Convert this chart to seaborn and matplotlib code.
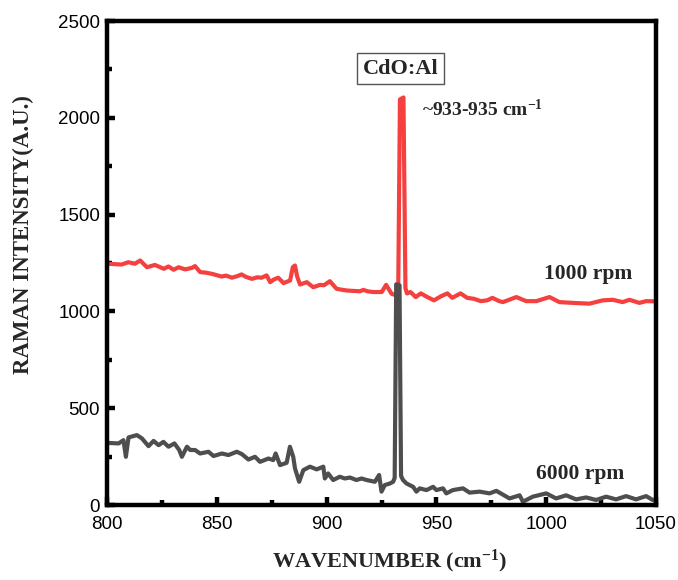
import matplotlib
matplotlib.use("Agg")
import matplotlib.pyplot as plt
from matplotlib.ticker import MultipleLocator
import pandas as pd
import seaborn as sns

# Raman spectrum, CdO:Al film spun at 1000 rpm
wavenumber_1000 = [
    800, 803.5, 806.6, 809.7, 812.7, 815.1, 818.2, 821.8, 825.9, 828, 830.3, 832.6,
    835.6, 838.7, 840.1, 842.4, 845.1, 847.8, 852.2, 854.2, 856.9, 859.3, 861.3, 863.3,
    866, 868.4, 870.4, 872.7, 874.3, 876, 878, 880.4, 883.4, 884.6, 885.6, 886.6,
    887.9, 891, 893.9, 897, 898.8, 901.5, 904.5, 906.9, 909.1, 911.9, 915.2, 916.7,
    919, 921.3, 925.1, 927.1, 929.6, 931.9, 932.6, 933.4, 935.0, 935.9, 936.6, 938.2,
    940.6, 942.9, 945.9, 948.9, 951.9, 955, 957.2, 961, 964, 967.1, 970.2, 973.1,
    975.5, 978.6, 980.3, 986.4, 990.9, 995.5, 1001.5, 1006, 1012.1, 1019.7, 1025.7,
    1030.3, 1034.8, 1037.9, 1042.4, 1045.5, 1049.2,
]
intensity_1000 = [
    1246, 1244, 1242, 1254, 1246, 1263, 1228, 1240, 1220, 1232, 1215, 1228,
    1217, 1225, 1234, 1203, 1200, 1194, 1180, 1185, 1174, 1182, 1191, 1178,
    1168, 1176, 1174, 1186, 1151, 1165, 1174, 1146, 1160, 1228, 1237, 1180,
    1139, 1151, 1125, 1137, 1135, 1156, 1117, 1112, 1108, 1106, 1104, 1111,
    1103, 1100, 1100, 1137, 1091, 1082, 1085, 2095, 2105, 1120, 1093, 1100,
    1074, 1093, 1074, 1057, 1077, 1093, 1070, 1093, 1070, 1065, 1053, 1057,
    1070, 1053, 1048, 1074, 1053, 1053, 1074, 1048, 1044, 1040, 1057,
    1060, 1048, 1060, 1044, 1053, 1052,
]

# Raman spectrum, CdO:Al film spun at 6000 rpm
wavenumber_6000 = [
    800, 805.3, 807.5, 808.6, 809.8, 813.6, 815.9, 818.9, 821.2, 823.5, 825.7, 828,
    830.7, 832.9, 834.1, 836.4, 837.9, 840.1, 842.4, 846.2, 848.5, 852.3, 855.3, 859.1,
    861.4, 864.4, 867.4, 869.7, 873.5, 875.7, 876.8, 878.8, 881.8, 883.3, 884.8, 885.6,
    887.5, 889.4, 892.4, 895.5, 898.5, 899.2, 900.7, 903, 906, 908.3, 910.6, 913.6,
    915.9, 918.2, 922, 923.9, 925, 926.5, 928.8, 930.3, 931.0, 931.7, 933.2, 933.9,
    934.8, 936.4, 939.4, 940.9, 942.4, 945.5, 948.5, 950, 953, 954.5, 957.5, 962.1,
    965.1, 969.7, 974.2, 977.3, 983.3, 987.9, 989.4, 993.9, 1000, 1004.5, 1009.1,
    1013.6, 1018.2, 1022.7, 1027.3, 1031.8, 1036.4, 1040.9, 1045.5, 1048.5,
]
intensity_6000 = [
    321, 318, 335, 249, 349, 361, 344, 304, 331, 309, 326, 301,
    318, 284, 249, 301, 284, 284, 266, 275, 253, 266, 258, 275,
    263, 235, 249, 223, 240, 232, 266, 206, 218, 301, 249, 189,
    120, 180, 198, 184, 198, 137, 163, 129, 146, 137, 142, 129,
    137, 129, 120, 155, 69, 103, 111, 120, 140, 1140, 1135, 150,
    129, 111, 94, 69, 86, 77, 94, 77, 86, 60, 77, 86,
    64, 69, 60, 73, 34, 50, 17, 43, 60, 34, 50,
    29, 39, 26, 43, 29, 46, 29, 46, 26,
]

x_ticks = [800, 850, 900, 950, 1000, 1050]
y_ticks = [0, 500, 1000, 1500, 2000, 2500]

RED = "#f4403f"
GREY = "#4e4e4e"
SERIF = ["Liberation Serif", "DejaVu Serif"]

sns.set_theme(style="white")
plt.rcParams["font.family"] = ["Liberation Sans", "DejaVu Sans"]
plt.rcParams["mathtext.fontset"] = "custom"
plt.rcParams["mathtext.rm"] = "Liberation Serif:bold"
plt.rcParams["mathtext.it"] = "Liberation Serif:bold"
plt.rcParams["mathtext.bf"] = "Liberation Serif:bold"

fig = plt.figure(figsize=(6.78, 5.80), dpi=100)
ax = fig.add_axes([107 / 678, 1 - 505 / 580, (656 - 107) / 678, (505 - 21) / 580])

df_1000 = pd.DataFrame({"wavenumber": wavenumber_1000, "intensity": intensity_1000})
df_6000 = pd.DataFrame({"wavenumber": wavenumber_6000, "intensity": intensity_6000})

sns.lineplot(data=df_1000, x="wavenumber", y="intensity", color=RED, lw=3.0,
             sort=False, estimator=None, ax=ax)
sns.lineplot(data=df_6000, x="wavenumber", y="intensity", color=GREY, lw=3.0,
             sort=False, estimator=None, ax=ax)

ax.set_xlim(800, 1050)
ax.set_ylim(0, 2500)
ax.set_xticks(x_ticks)
ax.set_yticks(y_ticks)
ax.set_xticklabels([str(t) for t in x_ticks])
ax.set_yticklabels([str(t) for t in y_ticks])
ax.xaxis.set_minor_locator(MultipleLocator(25))
ax.yaxis.set_minor_locator(MultipleLocator(250))

for side in ax.spines.values():
    side.set_linewidth(3.2)
    side.set_color("black")

ax.tick_params(which="major", direction="in", length=6, width=3.2, color="black",
               labelsize=13.5, labelcolor="black", bottom=True, left=True,
               top=False, right=False)
ax.tick_params(which="minor", direction="in", length=3.5, width=3.2, color="black",
               bottom=True, left=True, top=False, right=False)
ax.tick_params(axis="x", which="major", pad=8)
ax.tick_params(axis="y", which="major", pad=5)

ax.set_xlabel("WAVENUMBER (cm$^{-1}$)", fontsize=16, fontweight="bold", family=SERIF)
ax.set_ylabel("RAMAN INTENSITY(A.U.)", fontsize=16.5, fontweight="bold", family=SERIF)
ax.xaxis.set_label_coords(0.514, -0.088)
ax.yaxis.set_label_coords(-0.133, 0.558)

ax.text(933.8, 2253, "CdO:Al", fontsize=16, fontweight="bold", family=SERIF,
        ha="center", va="center",
        bbox=dict(boxstyle="square,pad=0.25", facecolor="white",
                  edgecolor="#555555", linewidth=1.0))
ax.text(943.3, 2010, "~933-935 cm$^{-1}$", fontsize=14, fontweight="bold",
        family=SERIF, ha="left", va="baseline")
ax.text(1019.2, 1191, "1000 rpm", fontsize=15.5, fontweight="bold", family=SERIF,
        ha="center", va="center")
ax.text(1015.6, 160, "6000 rpm", fontsize=15.5, fontweight="bold", family=SERIF,
        ha="center", va="center")

fig.savefig("out.png", dpi=100)
